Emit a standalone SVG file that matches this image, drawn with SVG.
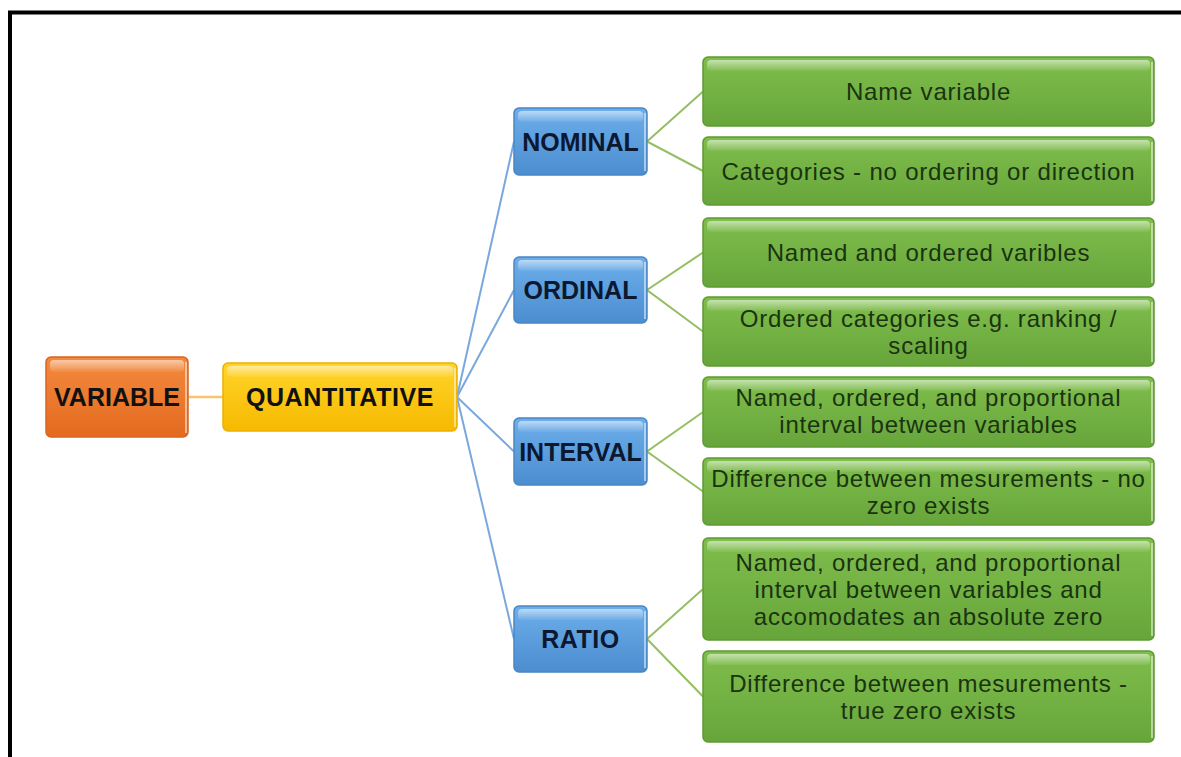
<svg xmlns="http://www.w3.org/2000/svg" width="1181" height="757" viewBox="0 0 1181 757">
  <defs>
    <linearGradient id="gOrange" x1="0" y1="0" x2="0" y2="1">
      <stop offset="0" stop-color="#F38A3F"/>
      <stop offset="1" stop-color="#E36A1F"/>
    </linearGradient>
    <linearGradient id="gGold" x1="0" y1="0" x2="0" y2="1">
      <stop offset="0" stop-color="#FFD52A"/>
      <stop offset="1" stop-color="#F7B900"/>
    </linearGradient>
    <linearGradient id="gBlue" x1="0" y1="0" x2="0" y2="1">
      <stop offset="0" stop-color="#6DAEEA"/>
      <stop offset="1" stop-color="#4C8DD0"/>
    </linearGradient>
    <linearGradient id="gGreen" x1="0" y1="0" x2="0" y2="1">
      <stop offset="0" stop-color="#7FBE4C"/>
      <stop offset="1" stop-color="#67A53B"/>
    </linearGradient>
    <linearGradient id="gShine" x1="0" y1="0" x2="0" y2="1">
      <stop offset="0" stop-color="#FFFFFF" stop-opacity="0.55"/>
      <stop offset="1" stop-color="#FFFFFF" stop-opacity="0.05"/>
    </linearGradient>
  </defs>
  <style>
    .frame { fill: none; stroke: #000; stroke-width: 4; }
    .box { stroke-width: 1.5; }
    .orange { fill: url(#gOrange); stroke: #D9661E; }
    .gold { fill: url(#gGold); stroke: #EDB000; }
    .blue { fill: url(#gBlue); stroke: #4A86C4; }
    .green { fill: url(#gGreen); stroke: #5E9A35; }
    .shine { fill: url(#gShine); }
    .edge { fill: none; stroke: #FFFFFF; stroke-opacity: 0.5; stroke-width: 2; }
    .lbl { font-family: "Liberation Sans", Arial, sans-serif; font-weight: bold; font-size: 25px; text-anchor: middle; fill: #111111; }
    .lbl-b { fill: #0B1830; }
    .txt { font-family: "Liberation Sans", Arial, sans-serif; font-size: 24px; letter-spacing: 0.8px; text-anchor: middle; fill: #1A3310; }
    .c-var { stroke: #F5C46E; stroke-width: 2.5; fill: none; }
    .c-blue { stroke: #7AA8DC; stroke-width: 2; fill: none; }
    .c-green { stroke: #93BF62; stroke-width: 2; fill: none; }
  </style>

  <rect width="1181" height="757" fill="#FFFFFF"/>
  <path class="frame" d="M10 757 V12.5 H1181"/>

  <g id="connectors">
    <line class="c-var" x1="188" y1="397" x2="223" y2="397"/>
    <line class="c-blue" x1="457" y1="397" x2="514" y2="141.5"/>
    <line class="c-blue" x1="457" y1="397" x2="514" y2="290"/>
    <line class="c-blue" x1="457" y1="397" x2="514" y2="451.5"/>
    <line class="c-blue" x1="457" y1="397" x2="514" y2="639"/>
    <polyline class="c-green" points="703,91.5 647,141.5 703,171"/>
    <polyline class="c-green" points="703,252.5 647,290 703,331.5"/>
    <polyline class="c-green" points="703,412 647,451.5 703,491.5"/>
    <polyline class="c-green" points="703,589 647,639 703,696.5"/>
  </g>

  <g id="variable">
    <rect class="box orange" x="46" y="357" width="142" height="80" rx="5"/>
    <rect class="shine" x="50" y="360" width="134" height="12" rx="4"/>
    <line class="edge" x1="186" y1="362" x2="186" y2="433"/>
    <text class="lbl" x="117" y="406">VARIABLE</text>
  </g>

  <g id="quantitative">
    <rect class="box gold" x="223" y="363" width="234" height="68" rx="5"/>
    <rect class="shine" x="227" y="366" width="226" height="11" rx="4"/>
    <line class="edge" x1="455" y1="368" x2="455" y2="427"/>
    <text class="lbl" x="340" y="406" letter-spacing="0.6">QUANTITATIVE</text>
  </g>

  <g id="nominal">
    <rect class="box blue" x="514" y="108" width="133" height="67" rx="5"/>
    <rect class="shine" x="518" y="111" width="125" height="11" rx="4"/>
    <line class="edge" x1="645" y1="113" x2="645" y2="171"/>
    <text class="lbl lbl-b" x="580.5" y="150.5">NOMINAL</text>
  </g>

  <g id="ordinal">
    <rect class="box blue" x="514" y="257" width="133" height="66" rx="5"/>
    <rect class="shine" x="518" y="260" width="125" height="11" rx="4"/>
    <line class="edge" x1="645" y1="262" x2="645" y2="319"/>
    <text class="lbl lbl-b" x="580.5" y="299">ORDINAL</text>
  </g>

  <g id="interval">
    <rect class="box blue" x="514" y="418" width="133" height="67" rx="5"/>
    <rect class="shine" x="518" y="421" width="125" height="11" rx="4"/>
    <line class="edge" x1="645" y1="423" x2="645" y2="481"/>
    <text class="lbl lbl-b" x="580.5" y="460.5">INTERVAL</text>
  </g>

  <g id="ratio">
    <rect class="box blue" x="514" y="606" width="133" height="66" rx="5"/>
    <rect class="shine" x="518" y="609" width="125" height="11" rx="4"/>
    <line class="edge" x1="645" y1="611" x2="645" y2="668"/>
    <text class="lbl lbl-b" x="580.5" y="648" letter-spacing="0.5">RATIO</text>
  </g>

  <g id="name-variable">
    <rect class="box green" x="703" y="57" width="451" height="69" rx="5"/>
    <rect class="shine" x="707" y="60" width="443" height="11" rx="4"/>
    <line class="edge" x1="1152" y1="62" x2="1152" y2="122"/>
    <text class="txt" x="928.5" y="100">Name variable</text>
  </g>

  <g id="categories">
    <rect class="box green" x="703" y="137" width="451" height="68" rx="5"/>
    <rect class="shine" x="707" y="140" width="443" height="11" rx="4"/>
    <line class="edge" x1="1152" y1="142" x2="1152" y2="201"/>
    <text class="txt" x="928.5" y="179.5">Categories - no ordering or direction</text>
  </g>

  <g id="named-ordered">
    <rect class="box green" x="703" y="218" width="451" height="69" rx="5"/>
    <rect class="shine" x="707" y="221" width="443" height="11" rx="4"/>
    <line class="edge" x1="1152" y1="223" x2="1152" y2="283"/>
    <text class="txt" x="928.5" y="261">Named and ordered varibles</text>
  </g>

  <g id="ordered-categories">
    <rect class="box green" x="703" y="297" width="451" height="69" rx="5"/>
    <rect class="shine" x="707" y="300" width="443" height="11" rx="4"/>
    <line class="edge" x1="1152" y1="302" x2="1152" y2="362"/>
    <text class="txt" x="928.5" y="326.5">Ordered categories e.g. ranking /</text>
    <text class="txt" x="928.5" y="353.5">scaling</text>
  </g>

  <g id="interval-def">
    <rect class="box green" x="703" y="377" width="451" height="70" rx="5"/>
    <rect class="shine" x="707" y="380" width="443" height="11" rx="4"/>
    <line class="edge" x1="1152" y1="382" x2="1152" y2="443"/>
    <text class="txt" x="928.5" y="405.5">Named, ordered, and proportional</text>
    <text class="txt" x="928.5" y="432.5">interval between variables</text>
  </g>

  <g id="interval-zero">
    <rect class="box green" x="703" y="458" width="451" height="67" rx="5"/>
    <rect class="shine" x="707" y="461" width="443" height="11" rx="4"/>
    <line class="edge" x1="1152" y1="463" x2="1152" y2="521"/>
    <text class="txt" x="928.5" y="486.5">Difference between mesurements - no</text>
    <text class="txt" x="928.5" y="513.5">zero exists</text>
  </g>

  <g id="ratio-def">
    <rect class="box green" x="703" y="538" width="451" height="102" rx="5"/>
    <rect class="shine" x="707" y="541" width="443" height="11" rx="4"/>
    <line class="edge" x1="1152" y1="543" x2="1152" y2="636"/>
    <text class="txt" x="928.5" y="570.5">Named, ordered, and proportional</text>
    <text class="txt" x="928.5" y="597.5">interval between variables and</text>
    <text class="txt" x="928.5" y="624.5">accomodates an absolute zero</text>
  </g>

  <g id="ratio-zero">
    <rect class="box green" x="703" y="651" width="451" height="91" rx="5"/>
    <rect class="shine" x="707" y="654" width="443" height="11" rx="4"/>
    <line class="edge" x1="1152" y1="656" x2="1152" y2="738"/>
    <text class="txt" x="928.5" y="691.5">Difference between mesurements -</text>
    <text class="txt" x="928.5" y="718.5">true zero exists</text>
  </g>
</svg>
